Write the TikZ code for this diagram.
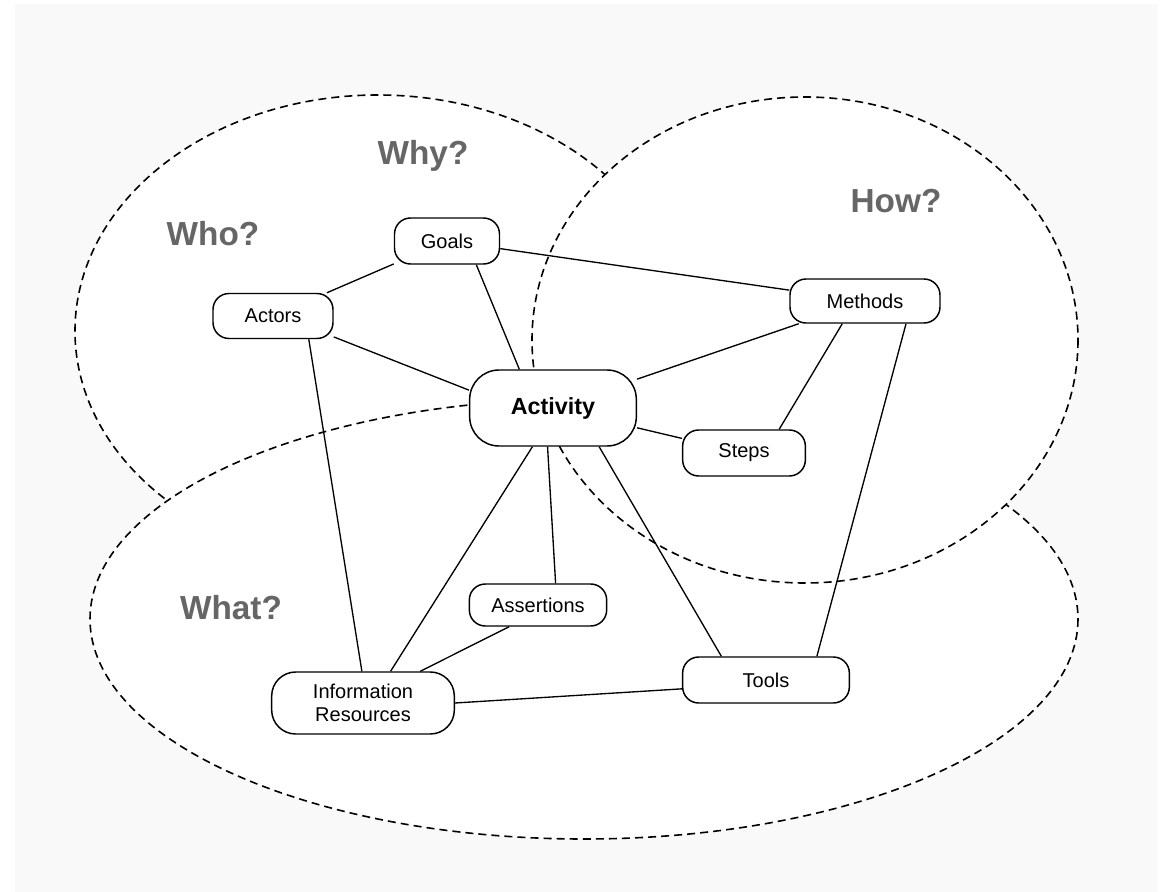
\documentclass[tikz,border=0pt]{standalone}
\usepackage{fontspec}
\setmainfont{Liberation Sans}
\usetikzlibrary{positioning}

\definecolor{canvas}{HTML}{F9F9F9}
\definecolor{askgray}{HTML}{666666}

\tikzset{
	entity/.style={draw, line width=1.1pt, rounded corners=12pt, fill=white, align=center,
		inner sep=0pt, font=\fontsize{15}{17.5}\selectfont},
	area/.style={draw, dash pattern=on 6pt off 3.8pt, line width=1.2pt, fill=white},
	question/.style={font=\bfseries\fontsize{25}{30}\selectfont, text=askgray},
	link/.style={line width=1pt}
}

\begin{document}
\begin{tikzpicture}[x=0.75pt, y=-0.75pt]
	\useasboundingbox (0,0) rectangle (1168,892);
	\fill[canvas] (15,4) rectangle (1158,892);
	% who / why, what, how
	\draw[area] (378,331) ellipse [x radius=303, y radius=236];
	\draw[area] (584,619) ellipse [x radius=494, y radius=220];
	\draw[area] (805,340) ellipse [x radius=273, y radius=243];
	\node[question] (who)  at (213,234) {Who?};
	\node[question] (why)  at (423,156) {Why?};
	\node[question] (how)  at (896,201) {How?};
	\node[question] (what) at (231,608) {What?};
	% entities
	\node[entity, minimum width=78.75pt, minimum height=34.5pt] (goals)   at (447,241) {Goals};
	\node[entity, minimum width=90pt, minimum height=33.75pt]   (actors)  at (273,316) {Actors};
	\node[entity, minimum width=112.5pt, minimum height=33pt]   (methods) at (865,301) {Methods};
	\node[entity, minimum width=125pt, minimum height=57pt, rounded corners=22pt,
		font=\bfseries\fontsize{17.5}{21}\selectfont]           (activity) at (553,408) {Activity};
	\node[entity, minimum width=92pt, minimum height=34.5pt]    (steps)   at (744,453) {Steps};
	\node[entity, minimum width=103pt, minimum height=31.5pt]   (assertions) at (538,605) {Assertions};
	\node[entity, minimum width=125pt, minimum height=34.5pt]   (tools)   at (766,680) {Tools};
	\node[entity, minimum width=137pt, minimum height=46.5pt, rounded corners=18pt]
		(resources) at (363,703) {Information\\Resources};
	\foreach \from/\to in {goals/actors, goals/methods, goals.-39/activity.131,
		actors.-19/activity.168, actors.-33/resources.92, methods/activity,
		methods.-135/steps.34, methods.-29/tools.25, activity/steps,
		activity.-98/assertions.51, activity.-118/resources.49, activity.-40/tools.152,
		assertions.-143/resources.29, resources.east/tools.186}
		\draw[link] (\from) -- (\to);
\end{tikzpicture}
\end{document}
